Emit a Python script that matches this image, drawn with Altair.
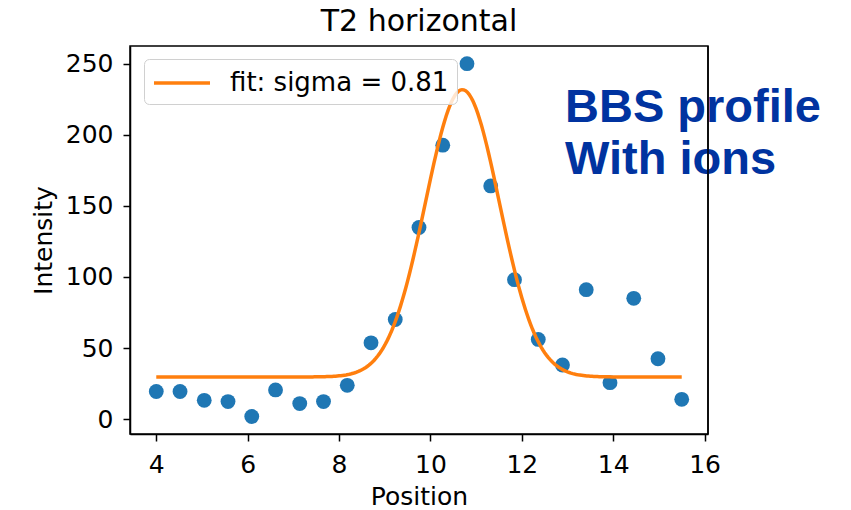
import altair as alt
import numpy as np
import pandas as pd

# Measured beam profile
positions = [4.0, 4.52, 5.05, 5.57, 6.09, 6.61, 7.14, 7.66, 8.18, 8.70, 9.23, 9.75,
             10.27, 10.80, 11.32, 11.84, 12.36, 12.89, 13.41, 13.93, 14.45, 14.98, 15.5]
intensities = [19.5, 19.5, 13.3, 12.4, 1.9, 20.6, 11.0, 12.4, 23.8, 53.7, 70.1, 134.8,
               192.7, 250.0, 164.0, 98.1, 56.1, 38.1, 91.1, 25.7, 85.0, 42.5, 14.0]

# Gaussian fit parameters
fit_offset = 29.7
fit_amplitude = 202.0
fit_center = 10.70
fit_sigma = 0.81
fit_label = f"fit: sigma = {fit_sigma:.2f}"

FONT = "DejaVu Sans"
WIDTH, HEIGHT = 578, 388

points = pd.DataFrame({"Position": positions, "Intensity": intensities})

fit_x = np.linspace(min(positions), max(positions), 300)
fit_y = fit_offset + fit_amplitude * np.exp(-((fit_x - fit_center) ** 2) / (2 * fit_sigma ** 2))
fit = pd.DataFrame({"Position": fit_x, "Intensity": fit_y, "series": fit_label})

x_scale = alt.Scale(domain=[3.425, 16.075], nice=False, zero=False)
y_scale = alt.Scale(domain=[-10.4, 262.4], nice=False, zero=False)

x_axis = alt.Axis(values=[4, 6, 8, 10, 12, 14, 16], grid=False, tickSize=7,
                  labelPadding=11, titlePadding=7)
y_axis = alt.Axis(values=[0, 50, 100, 150, 200, 250], grid=False, tickSize=7,
                  labelPadding=10, titlePadding=9)

scatter = alt.Chart(points).mark_circle(size=220, opacity=1, color="#1f77b4").encode(
    x=alt.X("Position:Q", scale=x_scale, axis=x_axis, title="Position"),
    y=alt.Y("Intensity:Q", scale=y_scale, axis=y_axis, title="Intensity"),
)

# Legend swatch: a short horizontal stroke that extends to the right of its slot
swatch = "M-1,0H3"

line = alt.Chart(fit).mark_line(strokeWidth=3.5).encode(
    x=alt.X("Position:Q", scale=x_scale),
    y=alt.Y("Intensity:Q", scale=y_scale),
    color=alt.Color(
        "series:N",
        scale=alt.Scale(domain=[fit_label], range=["#ff7f0e"]),
        legend=alt.Legend(
            title=None, orient="none", legendX=14, legendY=13,
            symbolType=swatch, symbolSize=784, symbolStrokeWidth=3.5,
            labelFontSize=26, labelFont=FONT, labelColor="black", labelOffset=46,
            labelLimit=500, padding=8, strokeColor="#d0d0d0",
            fillColor="rgba(255,255,255,0.8)", cornerRadius=5,
        ),
    ),
)

note = alt.Chart(pd.DataFrame({"t": ["BBS profile\nWith ions"]})).mark_text(
    font="Liberation Sans", fontWeight="bold", fontSize=47, color="#0033a0",
    align="left", baseline="alphabetic", lineBreak="\n", lineHeight=52,
).encode(text="t:N", x=alt.value(435), y=alt.value(76))

# Right edge of the axes frame, drawn above the annotation text
right_edge = alt.Chart(pd.DataFrame({"k": [0]})).mark_rule(
    color="black", strokeWidth=1.5
).encode(x=alt.value(WIDTH), y=alt.value(0), y2=alt.value(HEIGHT))

chart = (
    alt.layer(scatter, line, note, right_edge)
    .properties(
        width=WIDTH, height=HEIGHT,
        background="white",
        title=alt.TitleParams("T2 horizontal", fontSize=30, font=FONT, fontWeight="normal",
                              color="black", anchor="middle", offset=8),
        autosize=alt.AutoSizeParams(type="none"),
        padding={"left": 130, "top": 46, "right": 143, "bottom": 76},
    )
    .configure_view(stroke="black", strokeWidth=1.5)
    .configure_axis(
        labelFont=FONT, titleFont=FONT, labelFontSize=25, titleFontSize=25,
        labelColor="black", titleColor="black", titleFontWeight="normal",
        domainColor="black", domainWidth=1.5, tickColor="black", tickWidth=1.5,
    )
)

chart.save("out.html", embed_options={"renderer": "svg", "actions": False})
